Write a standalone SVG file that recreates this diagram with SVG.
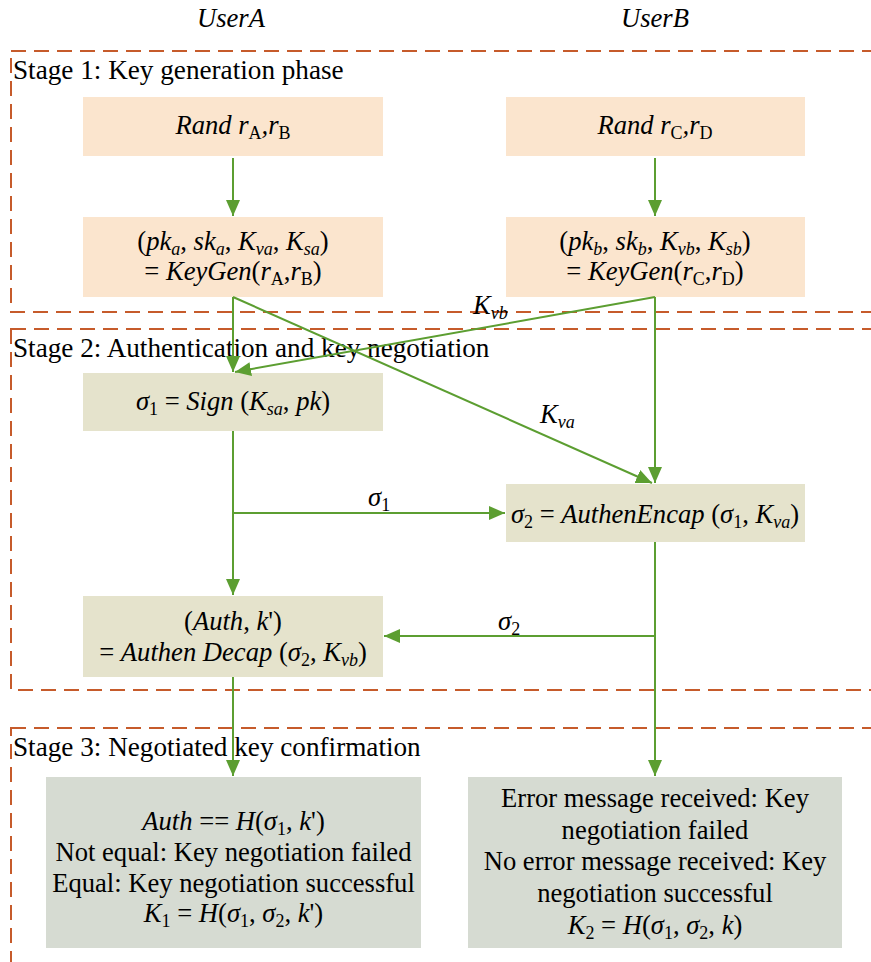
<svg xmlns="http://www.w3.org/2000/svg" width="871" height="962" viewBox="0 0 871 962">
<style>
text{font-family:"Liberation Serif","Times New Roman",serif;font-size:26.6px;fill:#000}
.c{text-anchor:middle}
.i{font-style:italic}
.n{font-style:normal}
.sb{font-size:18px}
.st{font-size:27.2px}
.stage{fill:none;stroke:#C65B2B;stroke-width:2;stroke-dasharray:15 8}
.b1{fill:#FBE5CE}
.b2{fill:#E5E3CC}
.b3{fill:#D6DBD2}
.cn{fill:none;stroke:#5C9E31;stroke-width:2;marker-end:url(#ah)}
</style>
<defs>
<marker id="ah" markerUnits="userSpaceOnUse" markerWidth="17" markerHeight="15" refX="16" refY="7" orient="auto">
<path d="M0,0 L16,7 L0,14 z" fill="#5C9E31"/>
</marker>
</defs>
<g id="titles">
<text class="c i" x="231" y="27">UserA</text>
<text class="c i" x="655" y="27">UserB</text>
</g>
<g id="stages">
<rect class="stage" x="11" y="51" width="900" height="261"/>
<rect class="stage" x="11" y="329" width="900" height="361"/>
<rect class="stage" x="11" y="728" width="900" height="300"/>
<text class="st" x="13" y="79">Stage 1: Key generation phase</text>
<text class="st" x="13" y="357">Stage 2: Authentication and key negotiation</text>
<text class="st" x="13" y="756">Stage 3: Negotiated key confirmation</text>
</g>
<g id="randA">
<rect class="b1" x="83" y="97" width="300" height="59"/>
<text class="c i" x="233" y="134">Rand r<tspan class="sb n" dy="5">A</tspan><tspan dy="-5">,r</tspan><tspan class="sb n" dy="5">B</tspan></text>
</g>
<g id="randB">
<rect class="b1" x="506" y="97" width="299" height="59"/>
<text class="c i" x="655" y="134">Rand r<tspan class="sb n" dy="5">C</tspan><tspan dy="-5">,r</tspan><tspan class="sb n" dy="5">D</tspan></text>
</g>
<g id="keygenA">
<rect class="b1" x="83" y="217" width="300" height="80"/>
<text class="c" x="233" y="250">(<tspan class="i">pk</tspan><tspan class="sb i" dy="5">a</tspan><tspan dy="-5">, </tspan><tspan class="i">sk</tspan><tspan class="sb i" dy="5">a</tspan><tspan dy="-5">, </tspan><tspan class="i">K</tspan><tspan class="sb i" dy="5">va</tspan><tspan dy="-5">, </tspan><tspan class="i">K</tspan><tspan class="sb i" dy="5">sa</tspan><tspan dy="-5">)</tspan></text>
<text class="c" x="233" y="280">= <tspan class="i">KeyGen</tspan>(<tspan class="i">r</tspan><tspan class="sb" dy="5">A</tspan><tspan dy="-5">,</tspan><tspan class="i">r</tspan><tspan class="sb" dy="5">B</tspan><tspan dy="-5">)</tspan></text>
</g>
<g id="keygenB">
<rect class="b1" x="506" y="217" width="299" height="80"/>
<text class="c" x="655" y="250">(<tspan class="i">pk</tspan><tspan class="sb i" dy="5">b</tspan><tspan dy="-5">, </tspan><tspan class="i">sk</tspan><tspan class="sb i" dy="5">b</tspan><tspan dy="-5">, </tspan><tspan class="i">K</tspan><tspan class="sb i" dy="5">vb</tspan><tspan dy="-5">, </tspan><tspan class="i">K</tspan><tspan class="sb i" dy="5">sb</tspan><tspan dy="-5">)</tspan></text>
<text class="c" x="655" y="280">= <tspan class="i">KeyGen</tspan>(<tspan class="i">r</tspan><tspan class="sb" dy="5">C</tspan><tspan dy="-5">,</tspan><tspan class="i">r</tspan><tspan class="sb" dy="5">D</tspan><tspan dy="-5">)</tspan></text>
</g>
<g id="sign">
<rect class="b2" x="83" y="373" width="300" height="58"/>
<text class="c" x="233" y="410"><tspan class="i">σ</tspan><tspan class="sb" dy="5">1</tspan><tspan dy="-5"> = </tspan><tspan class="i">Sign</tspan> (<tspan class="i">K</tspan><tspan class="sb i" dy="5">sa</tspan><tspan dy="-5">, </tspan><tspan class="i">pk</tspan>)</text>
</g>
<g id="encap">
<rect class="b2" x="506" y="484" width="299" height="58"/>
<text class="c" x="655" y="523"><tspan class="i">σ</tspan><tspan class="sb" dy="5">2</tspan><tspan dy="-5"> = </tspan><tspan class="i">AuthenEncap</tspan> (<tspan class="i">σ</tspan><tspan class="sb" dy="5">1</tspan><tspan dy="-5">, </tspan><tspan class="i">K</tspan><tspan class="sb i" dy="5">va</tspan><tspan dy="-5">)</tspan></text>
</g>
<g id="decap">
<rect class="b2" x="83" y="596" width="300" height="81"/>
<text class="c" x="233" y="630">(<tspan class="i">Auth</tspan>, <tspan class="i">k</tspan>')</text>
<text class="c" x="233" y="661">= <tspan class="i">Authen Decap</tspan> (<tspan class="i">σ</tspan><tspan class="sb" dy="5">2</tspan><tspan dy="-5">, </tspan><tspan class="i">K</tspan><tspan class="sb i" dy="5">vb</tspan><tspan dy="-5">)</tspan></text>
</g>
<g id="confirmA">
<rect class="b3" x="46" y="777" width="375" height="171"/>
<text class="c" x="233.5" y="830"><tspan class="i">Auth</tspan> == <tspan class="i">H</tspan>(<tspan class="i">σ</tspan><tspan class="sb" dy="5">1</tspan><tspan dy="-5">, </tspan><tspan class="i">k</tspan>')</text>
<text class="c" x="233.5" y="861">Not equal: Key negotiation failed</text>
<text class="c" x="233.5" y="892">Equal: Key negotiation successful</text>
<text class="c" x="233.5" y="922"><tspan class="i">K</tspan><tspan class="sb" dy="5">1</tspan><tspan dy="-5"> = </tspan><tspan class="i">H</tspan>(<tspan class="i">σ</tspan><tspan class="sb" dy="5">1</tspan><tspan dy="-5">, </tspan><tspan class="i">σ</tspan><tspan class="sb" dy="5">2</tspan><tspan dy="-5">, </tspan><tspan class="i">k</tspan>')</text>
</g>
<g id="confirmB">
<rect class="b3" x="468" y="777" width="374" height="171"/>
<text class="c" x="655" y="807">Error message received: Key</text>
<text class="c" x="655" y="839">negotiation failed</text>
<text class="c" x="655" y="870">No error message received: Key</text>
<text class="c" x="655" y="902">negotiation successful</text>
<text class="c" x="655" y="934"><tspan class="i">K</tspan><tspan class="sb" dy="5">2</tspan><tspan dy="-5"> = </tspan><tspan class="i">H</tspan>(<tspan class="i">σ</tspan><tspan class="sb" dy="5">1</tspan><tspan dy="-5">, </tspan><tspan class="i">σ</tspan><tspan class="sb" dy="5">2</tspan><tspan dy="-5">, </tspan><tspan class="i">k</tspan>)</text>
</g>
<g id="connectors">
<path class="cn" d="M233,158 V216"/>
<path class="cn" d="M655,158 V216"/>
<path class="cn" d="M233,297 V372"/>
<path class="cn" d="M233,297 L652,483"/>
<path class="cn" d="M655,297 L235,372"/>
<path class="cn" d="M655,297 V483"/>
<path class="cn" d="M233,431 V595"/>
<path class="cn" d="M233,513 H505"/>
<path class="cn" d="M655,542 V776"/>
<path class="cn" d="M655,636 H384"/>
<path class="cn" d="M233,677 V776"/>
<text class="i" x="473" y="314">K<tspan class="sb" dy="5">vb</tspan></text>
<text class="i" x="540" y="423">K<tspan class="sb" dy="5">va</tspan></text>
<text x="368" y="506"><tspan class="i">σ</tspan><tspan class="sb" dy="5">1</tspan></text>
<text x="498" y="630"><tspan class="i">σ</tspan><tspan class="sb" dy="5">2</tspan></text>
</g>
</svg>
